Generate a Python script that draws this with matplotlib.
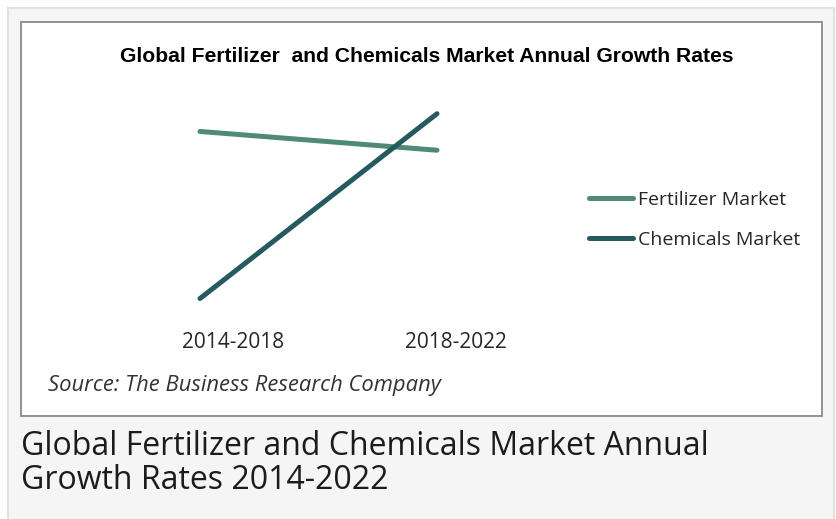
#growth rate chart with caption
import matplotlib.pyplot as plt
from matplotlib.patches import Rectangle

#data
periods = ['2014-2018', '2018-2022']
fertilizer = [3.8, 3.62]
chemicals = [2.2, 3.97]
series_names = ['Fertilizer Market', 'Chemicals Market']

W, H = 836, 519
fig = plt.figure(figsize=(W / 100, H / 100), dpi=100)
fig.patch.set_facecolor('white')

#outer panel and white chart box (pixel coords -> figure fraction)
def px(x0, y0, x1, y1):
    return (x0 / W, 1 - y1 / H), (x1 - x0) / W, (y1 - y0) / H

xy, w, h = px(7.5, 7.5, 833.5, 530)
fig.patches.append(Rectangle(xy, w, h, transform=fig.transFigure, facecolor='#f5f5f5',
                             edgecolor='#e2e2e2', linewidth=1.5, zorder=-3))
xy, w, h = px(20.5, 21.5, 821.5, 415.5)
fig.patches.append(Rectangle(xy, w, h, transform=fig.transFigure, facecolor='white',
                             edgecolor='#8a8a8a', linewidth=1.3, zorder=-2))

#plot area
ax = fig.add_axes([0.2109, 0.3846, 0.3402, 0.4426])
ax.set_facecolor('none')
x = list(range(len(periods)))
ax.plot(x, fertilizer, color='#4f8a75', linewidth=3.6, solid_capstyle='round', label=series_names[0])
ax.plot(x, chemicals, color='#245a60', linewidth=3.6, solid_capstyle='round', label=series_names[1])
ax.set_xlim(-0.1, 1.1)
ax.set_ylim(2.0, 4.2)
for s in ax.spines.values():
    s.set_visible(False)
ax.set_yticks([])
ax.set_xticks([0.14, 1.08])
ax.set_xticklabels(periods, fontfamily='Open Sans', fontsize=15, color='#262626')
ax.tick_params(axis='x', length=0, pad=9)

leg = ax.legend(loc='center left', bbox_to_anchor=(579 / W, 1 - 220 / H), bbox_transform=fig.transFigure,
                frameon=False, prop={'family': 'Open Sans', 'size': 14}, handlelength=2.3,
                handletextpad=0.22, labelspacing=1.15, borderpad=0, labelcolor='#262626')

#titles and texts
fig.text(427 / W, 1 - 57 / H, 'Global Fertilizer  and Chemicals Market Annual Growth Rates',
         ha='center', va='center', fontfamily='Liberation Sans',
         fontweight='bold', fontsize=15.2, color='black')
fig.text(48 / W, 1 - 385 / H, 'Source: The Business Research Company', ha='left', va='center',
         fontfamily='Open Sans', fontstyle='italic', fontsize=15.8, color='#333333')
fig.text(21 / W, 1 - 455 / H, 'Global Fertilizer and Chemicals Market Annual', ha='left', va='baseline',
         fontfamily='Open Sans', fontsize=23, color='#1c1c1c')
fig.text(21 / W, 1 - 489 / H, 'Growth Rates 2014-2022', ha='left', va='baseline',
         fontfamily='Open Sans', fontsize=23, color='#1c1c1c')

fig.savefig('out.png', dpi=100, facecolor=fig.get_facecolor())
